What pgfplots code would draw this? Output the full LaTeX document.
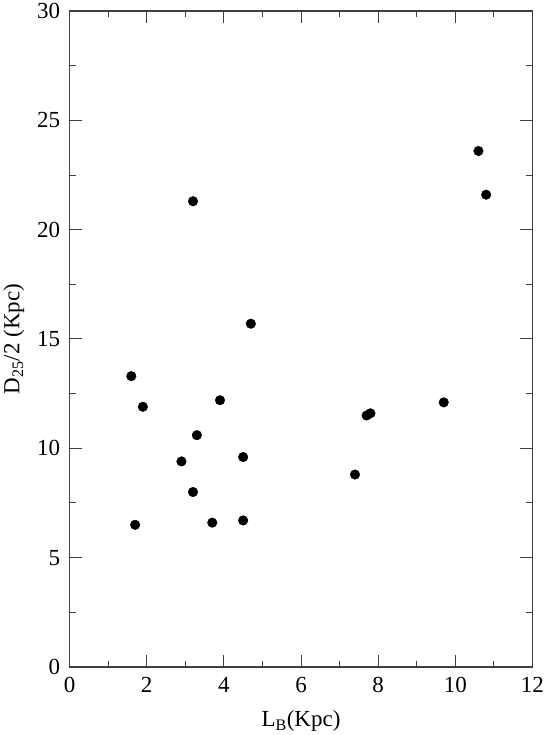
\documentclass[border=0pt]{standalone}
\usepackage{pgfplots}
\pgfplotsset{compat=1.18}
\usepackage{fontspec}
\setmainfont{Liberation Serif}
\begin{document}
\begin{tikzpicture}[x=1pt,y=1pt]
\begin{axis}[
  scale only axis,
  width=463pt, height=656pt,
  xmin=0, xmax=12, ymin=0, ymax=30,
  xtick={0,2,...,12}, ytick={0,5,...,30},
  minor xtick={1,3,...,11}, minor ytick={2.5,7.5,...,27.5},
  tick align=inside,
  major tick length=12pt, minor tick length=6pt,
  tick style={line width=1pt, color=black!75},
  axis line style={line width=1.2pt, color=black!75},
  /pgf/number format/assume math mode=true,
  tick label style={font=\fontsize{23}{27}\selectfont},
  label style={font=\fontsize{23}{27}\selectfont},
  xticklabel style={yshift=-7pt},
  yticklabel style={xshift=-6pt},
  xlabel={L\textsubscript{B}(Kpc)},
  ylabel={D\textsubscript{25}/2 (Kpc)},
  xlabel style={yshift=-11pt},
  ylabel style={yshift=6pt},
]
\addplot[only marks, mark=*, mark size=4.8pt, mark options={fill=black, draw=black}] coordinates {
(1.6,13.3) (1.9,11.9) (1.7,6.5) (2.9,9.4) (3.2,8.0) (3.3,10.6) (3.2,21.3)
(3.7,6.6) (3.9,12.2) (4.5,9.6) (4.5,6.7) (4.7,15.7) (7.4,8.8) (7.7,11.5)
(7.8,11.6) (9.7,12.1) (10.6,23.6) (10.8,21.6)
};
\end{axis}
\end{tikzpicture}
\end{document}
